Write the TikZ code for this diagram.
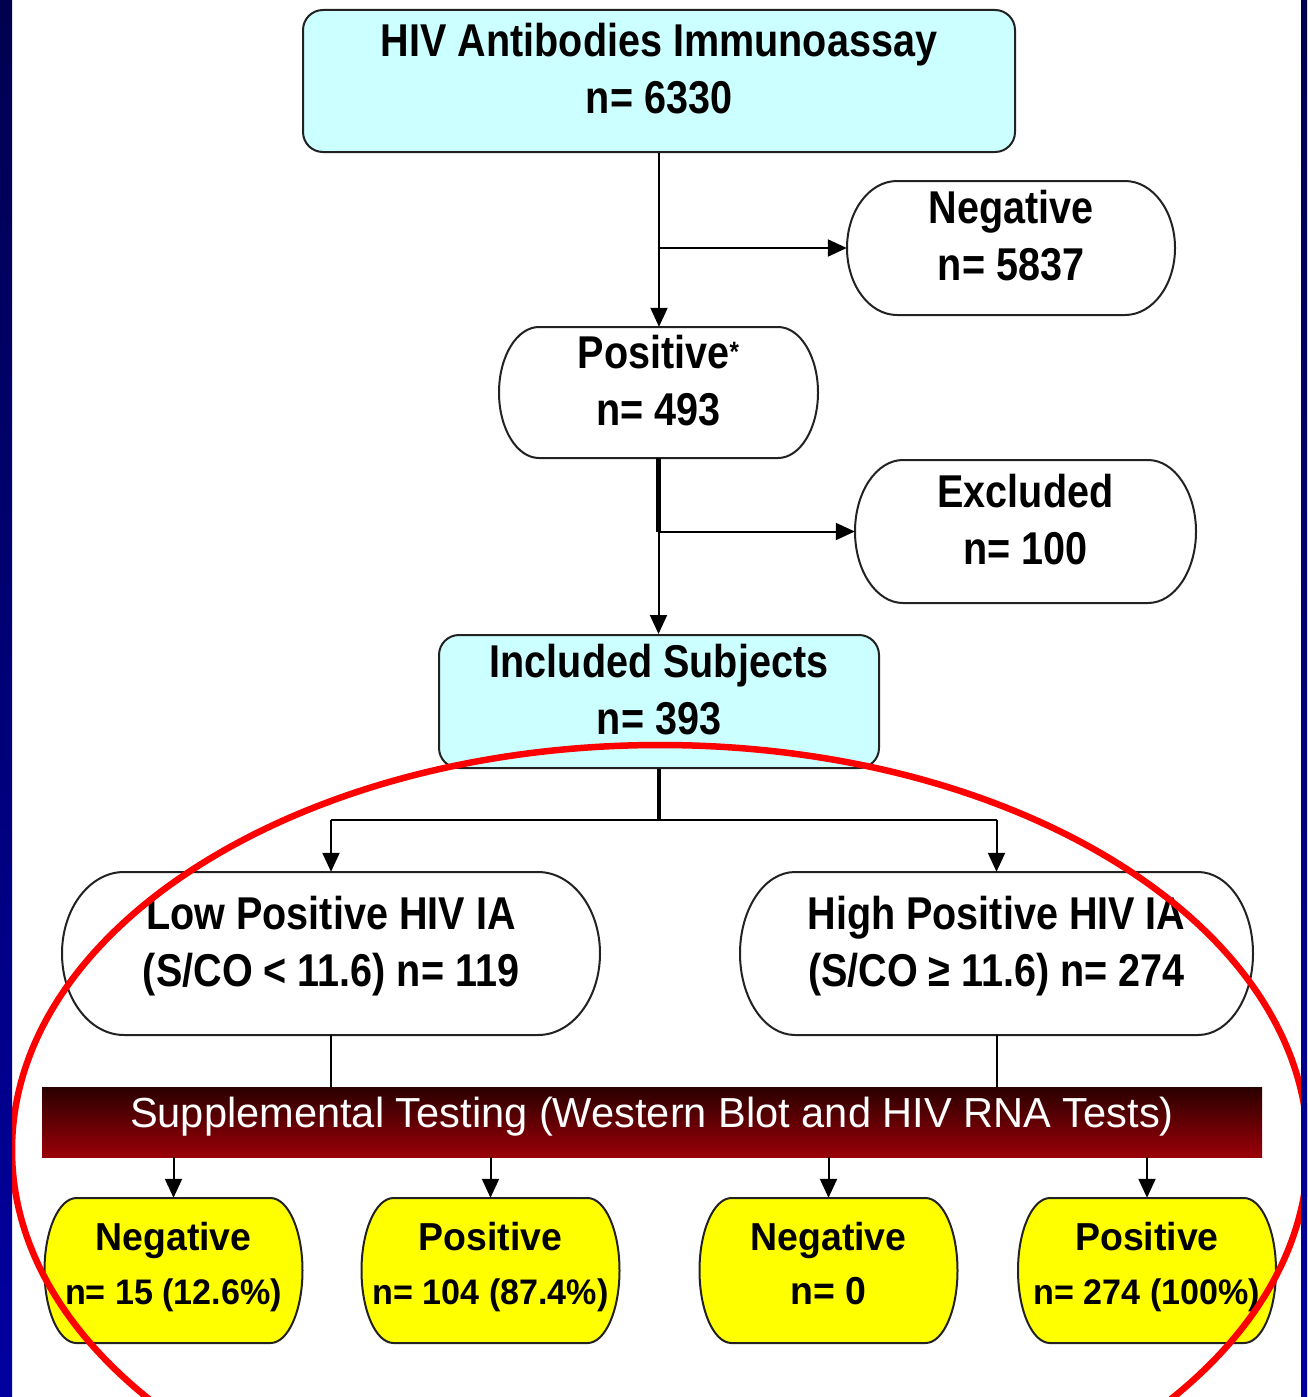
\documentclass[tikz,border=0pt]{standalone}
\usepackage{fontspec}
\setmainfont{Liberation Sans}
\newfontfamily\condbf{Liberation Sans}[FakeStretch=0.86]
\newfontfamily\ylwbf{Liberation Sans}[FakeStretch=0.96]
\newfontfamily\barfont{Liberation Sans}[FakeStretch=0.99]
\usetikzlibrary{arrows.meta}
\definecolor{lcyan}{HTML}{CCFFFF}
\definecolor{ylw}{HTML}{FFFF00}
\definecolor{navyA}{HTML}{000050}
\definecolor{navyB}{HTML}{0000A0}
\definecolor{barTop}{HTML}{2A0000}
\definecolor{barBot}{HTML}{9A0008}
\definecolor{edgegray}{HTML}{222222}
\newcommand\hs[1]{\rule{0pt}{#1}}
\newcommand\ds[1]{\rule[-#1]{0pt}{#1}}
\newcommand\ylwsmall{\fontsize{35.5}{54}\selectfont}
\newcommand\pillshape[6]{\path[#6] ({#1+#5},#2) -- ({#3-#5},#2) arc[start angle=-90,end angle=90,x radius=#5,y radius={(#4-#2)/2}] -- ({#1+#5},#4) arc[start angle=90,end angle=270,x radius=#5,y radius={(#4-#2)/2}] -- cycle;}
\begin{document}
\begin{tikzpicture}[x=1pt,y=-1pt,line join=round,
  conn/.style={draw=black,line width=2pt},
  thickconn/.style={draw=black,line width=4.5pt},
  arr/.style={conn,-{Triangle[length=19pt,width=17pt]}},
  outline/.style={draw=edgegray,line width=2pt},
  bigtext/.style={font=\condbf\bfseries\fontsize{46}{57}\selectfont,align=center,inner sep=0pt},
  cyanbox/.style={bigtext,rectangle,rounded corners=20pt,outline,fill=lcyan},
  pilltext/.style={bigtext,rectangle},
  ylwtext/.style={font=\ylwbf\bfseries\fontsize{39}{54}\selectfont,align=center,inner sep=0pt,
     minimum width=258pt,minimum height=145pt}
]
\useasboundingbox (0,0) rectangle (1307,1397);
\clip (0,0) rectangle (1307,1397);
\fill[white] (0,0) rectangle (1307,1397);

% top box
\node[cyanbox,minimum width=712pt,minimum height=142pt] (top) at (659,81)
  {\hs{36pt}HIV Antibodies Immunoassay\\\ds{28pt}n= 6330};

% negative
\pillshape{847}{181}{1175}{315}{50}{outline,fill=white}
\node[pilltext,minimum width=328pt,minimum height=134pt] (neg) at (1011,248)
  {\hs{36pt}Negative\\\ds{28pt}n= 5837};

% positive
\pillshape{499}{327}{818}{458}{40}{outline,fill=white}
\node[pilltext,minimum width=319pt,minimum height=131pt] (pos) at (658.5,392.5)
  {\hs{36pt}Positive\raisebox{7pt}{\fontsize{28}{28}\selectfont*}\\\ds{28pt}n= 493};

% excluded
\pillshape{855}{460}{1196}{603}{48}{outline,fill=white}
\node[pilltext,minimum width=341pt,minimum height=143pt] (exc) at (1025.5,531.5)
  {\hs{36pt}Excluded\\\ds{28pt}n= 100};

% included
\node[cyanbox,minimum width=440pt,minimum height=133pt] (inc) at (659,701.5)
  {\hs{36pt}Included Subjects\\\ds{28pt}n= 393};

% low / high
\pillshape{62}{872}{600}{1035}{62}{outline,fill=white}
\node[pilltext,minimum width=538pt,minimum height=163pt] (low) at (331,953.5)
  {\hs{36pt}Low Positive HIV IA\\\ds{28pt}(S/CO < 11.6) n= 119};
\pillshape{740}{872}{1253}{1035}{55}{outline,fill=white}
\node[pilltext,minimum width=513pt,minimum height=163pt] (high) at (996.5,953.5)
  {\hs{36pt}High Positive HIV IA\\\ds{28pt}(S/CO ≥ 11.6) n= 274};

% supplemental bar
\node[rectangle,top color=barTop,bottom color=barBot,minimum width=1220pt,minimum height=70pt,
  inner sep=0pt,text=white,font=\barfont\fontsize{42}{50}\selectfont,text height=30pt,text depth=20pt]
  (bar) at (652,1122) {Supplemental Testing (Western Blot and HIV RNA Tests)};

% yellow result boxes
\pillshape{44.5}{1198}{302.5}{1343}{32}{outline,fill=ylw}
\node[ylwtext] (y1) at (173.5,1270.5)
  {\hs{32pt}Negative\\\ds{19pt}{\ylwsmall n= 15 (12.6\%)}};
\pillshape{361.5}{1198}{619.5}{1343}{32}{outline,fill=ylw}
\node[ylwtext] (y2) at (490.5,1270.5)
  {\hs{32pt}Positive\\\ds{19pt}{\ylwsmall n= 104 (87.4\%)}};
\pillshape{699.5}{1198}{957.5}{1343}{32}{outline,fill=ylw}
\node[ylwtext] (y3) at (828.5,1270.5)
  {\hs{32pt}Negative\\\ds{19pt}n= 0};
\pillshape{1018}{1198}{1276}{1343}{32}{outline,fill=ylw}
\node[ylwtext] (y4) at (1147,1270.5)
  {\hs{32pt}Positive\\\ds{19pt}{\ylwsmall n= 274 (100\%)}};

% connectors
\coordinate (j1) at (top.south |- neg.west);
\draw[arr] (top.south) -- (top.south |- pos.north);
\draw[arr] (j1) -- (neg.west);
\coordinate (j2) at (pos.south |- exc.west);
\draw[thickconn] (pos.south) -- (j2);
\draw[arr] (j2) -- (j2 |- inc.north);
\draw[arr] (j2) -- (exc.west);
\coordinate (j3) at (659,820);
\draw[thickconn] (inc.south) -- (j3);
\coordinate (jl) at (low.north |- j3);
\coordinate (jh) at (high.north |- j3);
\draw[conn] (jl) -- (jh);
\draw[arr] (jl) -- (low.north);
\draw[arr] (jh) -- (high.north);
\draw[conn] (low.south) -- (low.south |- bar.north);
\draw[conn] (high.south) -- (high.south |- bar.north);
\draw[arr] (y1.north |- bar.south) -- (y1.north);
\draw[arr] (y2.north |- bar.south) -- (y2.north);
\draw[arr] (y3.north |- bar.south) -- (y3.north);
\draw[arr] (y4.north |- bar.south) -- (y4.north);

% red ellipse
\draw[red,line width=6.5pt] (660,1150) ellipse [x radius=648,y radius=405];

% side borders
\shade[top color=navyA,bottom color=navyB] (0,0) rectangle (12,1397);
\shade[top color=navyA,bottom color=navyB] (1301,0) rectangle (1307,1397);
\end{tikzpicture}
\end{document}
